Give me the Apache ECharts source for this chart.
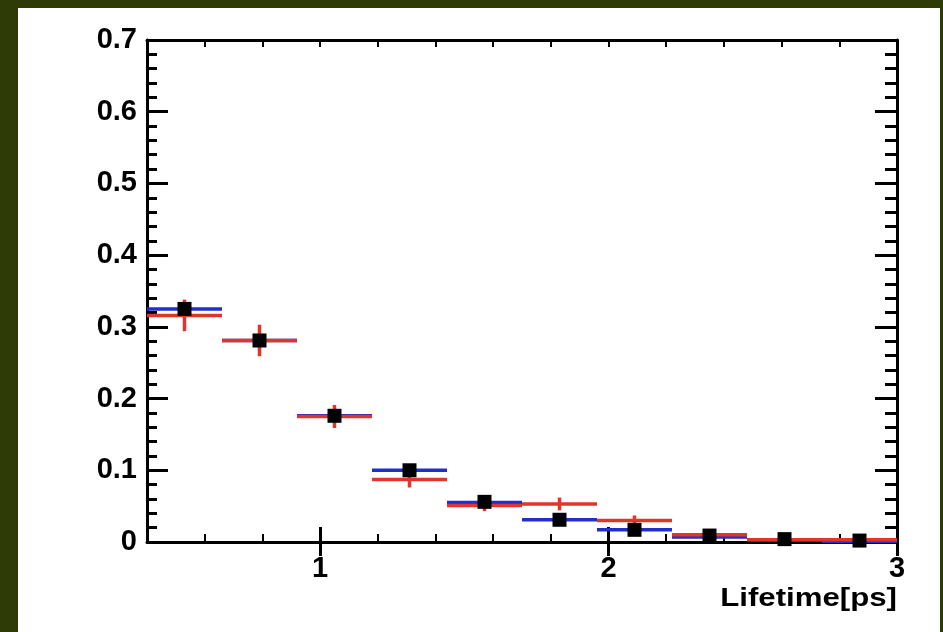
<!DOCTYPE html>
<html>
<head>
<meta charset="utf-8">
<script src="https://cdn.jsdelivr.net/npm/echarts@6/dist/echarts.min.js"></script>
<style>
html,body{margin:0;padding:0;background:#2e3b06;}
#c{width:943px;height:632px;}
</style>
</head>
<body>
<div id="c"></div>
<script>
// ---- data ----
const binCenters = [0.53, 0.79, 1.05, 1.31, 1.57, 1.83, 2.09, 2.35, 2.61, 2.87];
const binWidth = 0.26;
const dataVals = [0.325, 0.281, 0.176, 0.100, 0.056, 0.031, 0.017, 0.009, 0.004, 0.002];
const blueVals = [0.325, 0.281, 0.176, 0.100, 0.055, 0.031, 0.017, 0.007, 0.003, 0.001];
const redVals  = [0.316, 0.281, 0.175, 0.087, 0.051, 0.053, 0.030, 0.010, 0.003, 0.003];
const redErrs  = [0.022, 0.022, 0.016, 0.011, 0.008, 0.009, 0.007, 0.004, 0.002, 0.004];
const xMajorTicks = [1, 2, 3];
const xLabels = ['1', '2', '3'];
const yTickLabels = ['0', '0.1', '0.2', '0.3', '0.4', '0.5', '0.6', '0.7'];
const xTitle = 'Lifetime[ps]';

const FONT = '"Liberation Sans", Arial, Helvetica, sans-serif';
const BLUE = '#1f2fc8';
const RED = '#e0352b';

function binSeries(name, color, vals, errs, z) {
  return {
    type: 'custom', name, xAxisIndex: 0, yAxisIndex: 0, z,
    data: binCenters.map((c, i) => [c, vals[i], errs ? errs[i] : 0]),
    renderItem: function (params, api) {
      const c = api.value(0), v = api.value(1), e = api.value(2);
      const a = api.coord([c - binWidth / 2, v]);
      const b = api.coord([c + binWidth / 2, v]);
      const children = [{
        type: 'line',
        shape: { x1: a[0], y1: a[1], x2: b[0], y2: b[1] },
        style: { stroke: color, lineWidth: 3.5 }
      }];
      if (e > 0) {
        const t = api.coord([c, v + e]);
        const u = api.coord([c, v - e]);
        children.push({
          type: 'line',
          shape: { x1: t[0], y1: t[1], x2: u[0], y2: u[1] },
          style: { stroke: color, lineWidth: 3.5 }
        });
      }
      return { type: 'group', children };
    }
  };
}

const axisLine = { show: true, onZero: false, lineStyle: { color: '#000', width: 3 } };
const chart = echarts.init(document.getElementById('c'));
chart.setOption({
  backgroundColor: '#2e3b06',
  animation: false,
  graphic: [
    { type: 'rect', z: -100, shape: { x: 18, y: 8, width: 922, height: 624 }, style: { fill: '#ffffff' } },
    { type: 'text', z: 10, x: 897, y: 599, scaleX: 1.2,
      style: { text: xTitle, fill: '#000', font: 'bold 26px ' + FONT, align: 'right', verticalAlign: 'middle' } }
  ],
  grid: { left: 147, right: 46, top: 40, bottom: 90, containLabel: false },
  xAxis: [
    { type: 'value', position: 'bottom', min: 0.4, max: 3, interval: 0.2,
      axisLine, splitLine: { show: false },
      axisTick: { show: true, inside: true, length: 8, lineStyle: { color: '#000', width: 2 } },
      axisLabel: { show: true, customValues: xMajorTicks,
        formatter: v => xLabels[xMajorTicks.indexOf(Math.round(v * 100) / 100)] || '',
        color: '#000', fontFamily: FONT, fontWeight: 'bold', fontSize: 29, margin: 12 } },
    { type: 'value', position: 'bottom', min: 0.4, max: 3,
      axisLine: { show: false }, splitLine: { show: false },
      axisTick: { show: true, inside: true, length: 15, customValues: xMajorTicks, lineStyle: { color: '#000', width: 3 } },
      axisLabel: { show: false } },
    { type: 'value', position: 'top', min: 0.4, max: 3, interval: 0.2,
      axisLine, splitLine: { show: false },
      axisTick: { show: true, inside: true, length: 7, lineStyle: { color: '#000', width: 2 } },
      axisLabel: { show: false } },
    { type: 'value', position: 'top', min: 0.4, max: 3,
      axisLine: { show: false }, splitLine: { show: false },
      axisTick: { show: true, inside: true, length: 14, customValues: xMajorTicks, lineStyle: { color: '#000', width: 3 } },
      axisLabel: { show: false } }
  ],
  yAxis: [
    { type: 'value', position: 'left', min: 0, max: 0.7, interval: 0.1,
      axisLine, splitLine: { show: false },
      axisTick: { show: true, inside: true, length: 21, lineStyle: { color: '#000', width: 3 } },
      minorTick: { show: true, splitNumber: 5, length: 10, lineStyle: { color: '#000', width: 3 } },
      minorSplitLine: { show: false },
      axisLabel: { formatter: v => yTickLabels[Math.round(v * 10)], color: '#000', fontFamily: FONT,
        fontWeight: 'bold', fontSize: 29, margin: 10 } },
    { type: 'value', position: 'right', min: 0, max: 0.7, interval: 0.1,
      axisLine, splitLine: { show: false },
      axisTick: { show: true, inside: true, length: 22, lineStyle: { color: '#000', width: 3 } },
      minorTick: { show: true, splitNumber: 5, length: 12, lineStyle: { color: '#000', width: 3 } },
      minorSplitLine: { show: false },
      axisLabel: { show: false } }
  ],
  series: [
    binSeries('blue', BLUE, blueVals, null, 3),
    binSeries('red', RED, redVals, redErrs, 4),
    { type: 'scatter', name: 'data', xAxisIndex: 0, yAxisIndex: 0, z: 5,
      symbol: 'rect', symbolSize: 14,
      itemStyle: { color: '#000', opacity: 1 },
      data: binCenters.map((c, i) => [c, dataVals[i]]) }
  ]
});
</script>
</body>
</html>
